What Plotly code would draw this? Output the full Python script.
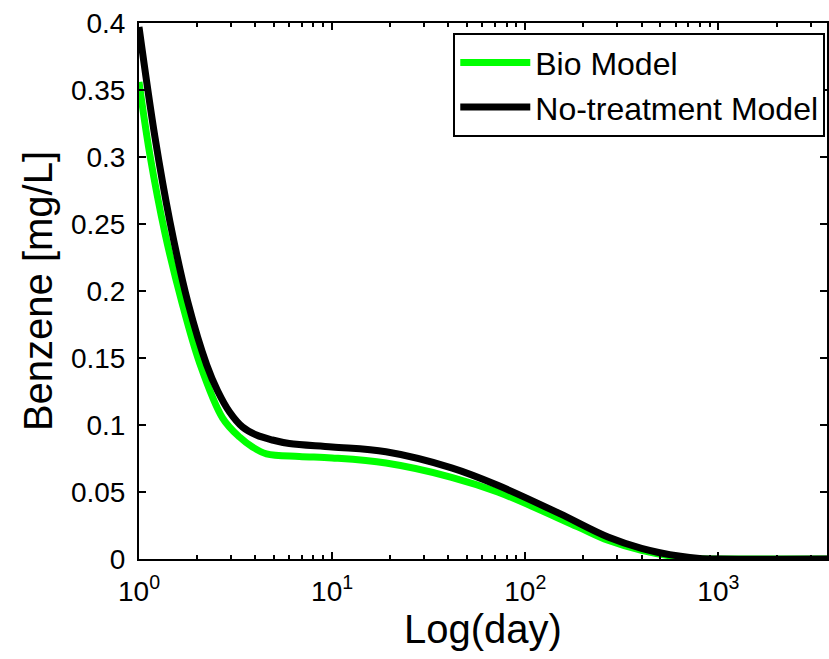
import plotly.graph_objects as go

# Benzene concentration over time (days), two model runs
bio_days = [1, 1.139, 1.362, 1.666, 2.06, 2.71, 3.316, 3.869, 4.569, 6.76, 10, 19, 41.5, 72, 187, 268, 400, 640, 800, 1000, 3650]
bio_conc = [0.356, 0.3015, 0.2433, 0.1918, 0.1463, 0.1052, 0.091, 0.0836, 0.0785, 0.0765, 0.0754, 0.0716, 0.061, 0.050, 0.024, 0.014, 0.0065, 0.0012, 0.0002, 0.0, 0.0]

notreat_days = [1, 1.209, 1.445, 1.789, 2.242, 2.555, 2.944, 3.437, 4.057, 4.906, 6.0, 10, 19, 41.5, 72, 150, 268, 400, 636, 800, 1000, 3650]
notreat_conc = [0.397, 0.315, 0.252, 0.1918, 0.1448, 0.1254, 0.1097, 0.0985, 0.0925, 0.0888, 0.0862, 0.0836, 0.080, 0.068, 0.055, 0.034, 0.0164, 0.008, 0.002, 0.0004, 0.0, 0.0]

x_tickvals = [1, 10, 100, 1000]
x_ticktext = ["10<sup>0</sup>", "10<sup>1</sup>", "10<sup>2</sup>", "10<sup>3</sup>"]
y_tickvals = [0, 0.05, 0.1, 0.15, 0.2, 0.25, 0.3, 0.35, 0.4]
y_ticktext = ["0", "0.05", "0.1", "0.15", "0.2", "0.25", "0.3", "0.35", "0.4"]

FONT = "Liberation Sans, Arial, sans-serif"

fig = go.Figure()
fig.add_trace(go.Scatter(x=bio_days, y=bio_conc, mode="lines", name="Bio Model",
                         line=dict(color="#00ff00", width=7, shape="spline", smoothing=1.0)))
fig.add_trace(go.Scatter(x=notreat_days, y=notreat_conc, mode="lines", name="No-treatment Model",
                         line=dict(color="#000000", width=7, shape="spline", smoothing=1.0)))

axis_common = dict(showline=True, linecolor="black", linewidth=2, mirror="ticks",
                   ticks="inside", tickcolor="black", tickwidth=2, ticklen=7,
                   showgrid=False, zeroline=False, ticklabelstandoff=6,
                   tickfont=dict(family=FONT, size=28, color="black"))

fig.update_layout(
    width=829, height=659,
    margin=dict(l=139, r=0, t=23, b=100),
    paper_bgcolor="white", plot_bgcolor="white",
    font=dict(family=FONT, color="black"),
    xaxis=dict(type="log", range=[0, 3.5623],
               tickvals=x_tickvals, ticktext=x_ticktext,
               minor=dict(ticks="inside", ticklen=4, tickcolor="black", tickwidth=1.5,
                          dtick="D1", showgrid=False),
               title=dict(text="Log(day)", font=dict(family=FONT, size=40), standoff=0),
               **axis_common),
    yaxis=dict(range=[0, 0.4], tickvals=y_tickvals, ticktext=y_ticktext,
               title=dict(text="Benzene [mg/L]", font=dict(family=FONT, size=40), standoff=6),
               **axis_common),
    legend=dict(x=0.9975, xanchor="right", y=0.981, yanchor="top",
                bordercolor="black", borderwidth=2, bgcolor="white",
                font=dict(family=FONT, size=32, color="black"),
                tracegroupgap=0, itemwidth=70),
    showlegend=True,
)

fig.write_html("out.html")
